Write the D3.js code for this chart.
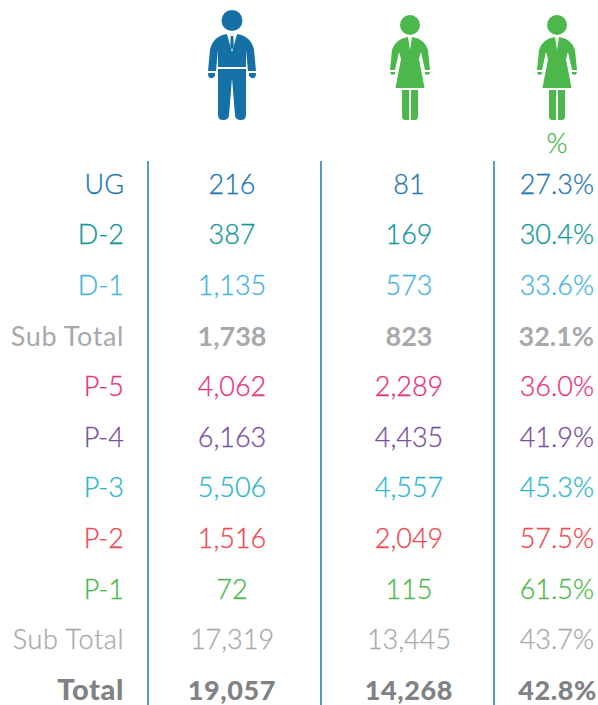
<!DOCTYPE html>
<html>
<head>
<meta charset="utf-8">
<script src="https://cdn.jsdelivr.net/npm/d3@7"></script>
<style>
  html, body { margin: 0; padding: 0; background: #fff; }
  text { font-family: Lato, sans-serif; }
</style>
</head>
<body>
<div id="chart"></div>
<script>
var grades = ["UG", "D-2", "D-1", "Sub Total", "P-5", "P-4", "P-3", "P-2", "P-1", "Sub Total", "Total"];
var men = ["216", "387", "1,135", "1,738", "4,062", "6,163", "5,506", "1,516", "72", "17,319", "19,057"];
var women = ["81", "169", "573", "823", "2,289", "4,435", "4,557", "2,049", "115", "13,445", "14,268"];
var percent = ["27.3%", "30.4%", "33.6%", "32.1%", "36.0%", "41.9%", "45.3%", "57.5%", "61.5%", "43.7%", "42.8%"];
var rowColors = ["#1f78ae", "#12979b", "#45b4e0", "#a7a9ac", "#e5347f", "#7a4f9e", "#2fb6cd", "#ee4a4f", "#4cb84c", "#a7a9ac", "#808285"];

var width = 598, height = 705;
var svg = d3.select("#chart").append("svg")
  .attr("width", width).attr("height", height)
  .style("display", "block");

var y = d3.scalePoint().domain(d3.range(grades.length)).range([184, 690]);

// column rules
[148, 321, 494].forEach(function(x) {
  svg.append("line")
    .attr("x1", x).attr("x2", x)
    .attr("y1", 161).attr("y2", 705)
    .attr("stroke", "#1f78ae").attr("stroke-width", 1.5);
});

// first sub total is semi bold in the numbers, total is heavy everywhere
function weight(i, isLabel) {
  if (i == 10) return 900;
  if (i == 3) return isLabel ? 400 : 700;
  return 300;
}

function column(values, x, anchor, isLabel) {
  svg.selectAll(null)
    .data(values)
    .enter()
    .append("text")
      .attr("x", function(d, i) { return i == 10 && x > 500 ? x + 3 : x; })
      .attr("y", function(d, i) { return y(i); })
      .attr("dy", "0.36em")
      .attr("text-anchor", anchor)
      .attr("font-size", function(d, i) { return i == 10 && isLabel ? 29 : 27; })
      .attr("letter-spacing", function(d, i) {
        if (isLabel && (i == 3 || i == 9)) return 0.6;
        return i == 10 ? 0.6 : 0;
      })
      .attr("font-weight", function(d, i) { return weight(i, isLabel); })
      .attr("fill", function(d, i) { return rowColors[i]; })
      // the light weight comes out thinner than the reference, thicken it a little
      .attr("stroke", function(d, i) { return weight(i, isLabel) == 300 ? rowColors[i] : "none"; })
      .attr("stroke-width", 0.3)
      .text(function(d) { return d; });
}

column(grades, 124, "end", true);
column(men, 232, "middle", false);
column(women, 409, "middle", false);
column(percent, 594, "end", false);

// people
function man(g, color) {
  g.append("circle").attr("cx", 0).attr("cy", 20.5).attr("r", 10.5).attr("fill", color);
  g.append("path").attr("fill", color)
    .attr("d", "M-5,34 L0,52 L5,34 Q19,36 22,50 L24,71 L16,71 L14,50 L14,67 L-14,67 L-14,50 L-16,71 L-24,71 L-22,50 Q-19,36 -5,34 Z");
  // trousers
  g.append("path").attr("fill", color)
    .attr("d", "M-14,69 L14,69 L14,115 Q14,120 9,120 Q3,120 3,115 L0,78 L-3,115 Q-3,120 -9,120 Q-14,120 -14,115 Z");
  // cuffs
  g.append("path").attr("fill", color).attr("d", "M-24,73 L-17,73 L-17,76 Q-20,79 -22,78 Q-24,77 -24,73 Z");
  g.append("path").attr("fill", color).attr("d", "M24,73 L17,73 L17,76 Q20,79 22,78 Q24,77 24,73 Z");
  // shirt and tie
  g.append("path").attr("fill", "#fff").attr("d", "M-4.5,34 L4.5,34 L0,51 Z");
  g.append("path").attr("fill", color).attr("d", "M-1.3,36 L1.3,36 L1.8,46 L0,50 L-1.8,46 Z");
}

function woman(g, color) {
  g.append("circle").attr("cx", 0).attr("cy", 25).attr("r", 10).attr("fill", color);
  g.append("path").attr("fill", color)
    .attr("d", "M-2,37 L0,50 L2,37 Q15,39 18,50 L20,70 L15,70 L11,52 L9,59 L14.5,88 L-14.5,88 L-9,59 L-11,52 L-15,70 L-20,70 L-18,50 Q-15,39 -2,37 Z");
  // cuffs
  g.append("path").attr("fill", color).attr("d", "M-20,72 L-15,72 L-15,74 Q-17,75 -19,74.5 Z");
  g.append("path").attr("fill", color).attr("d", "M20,72 L15,72 L15,74 Q17,75 19,74.5 Z");
  // legs
  g.append("path").attr("fill", color).attr("d", "M-8,90 L-1,90 L-1,120 L-5,120 Q-8,120 -8,116 Z");
  g.append("path").attr("fill", color).attr("d", "M8,90 L1,90 L1,120 L5,120 Q8,120 8,116 Z");
}

man(svg.append("g").attr("transform", "translate(232,0)"), "#1570a6");
woman(svg.append("g").attr("transform", "translate(410,0)"), "#4cb84c");
woman(svg.append("g").attr("transform", "translate(557,0)"), "#4cb84c");

svg.append("text")
  .attr("x", 557).attr("y", 143).attr("dy", "0.36em")
  .attr("text-anchor", "middle").attr("font-size", 27).attr("font-weight", 300)
  .attr("fill", "#4cb84c").attr("stroke", "#4cb84c").attr("stroke-width", 0.3).text("%");
</script>
</body>
</html>
